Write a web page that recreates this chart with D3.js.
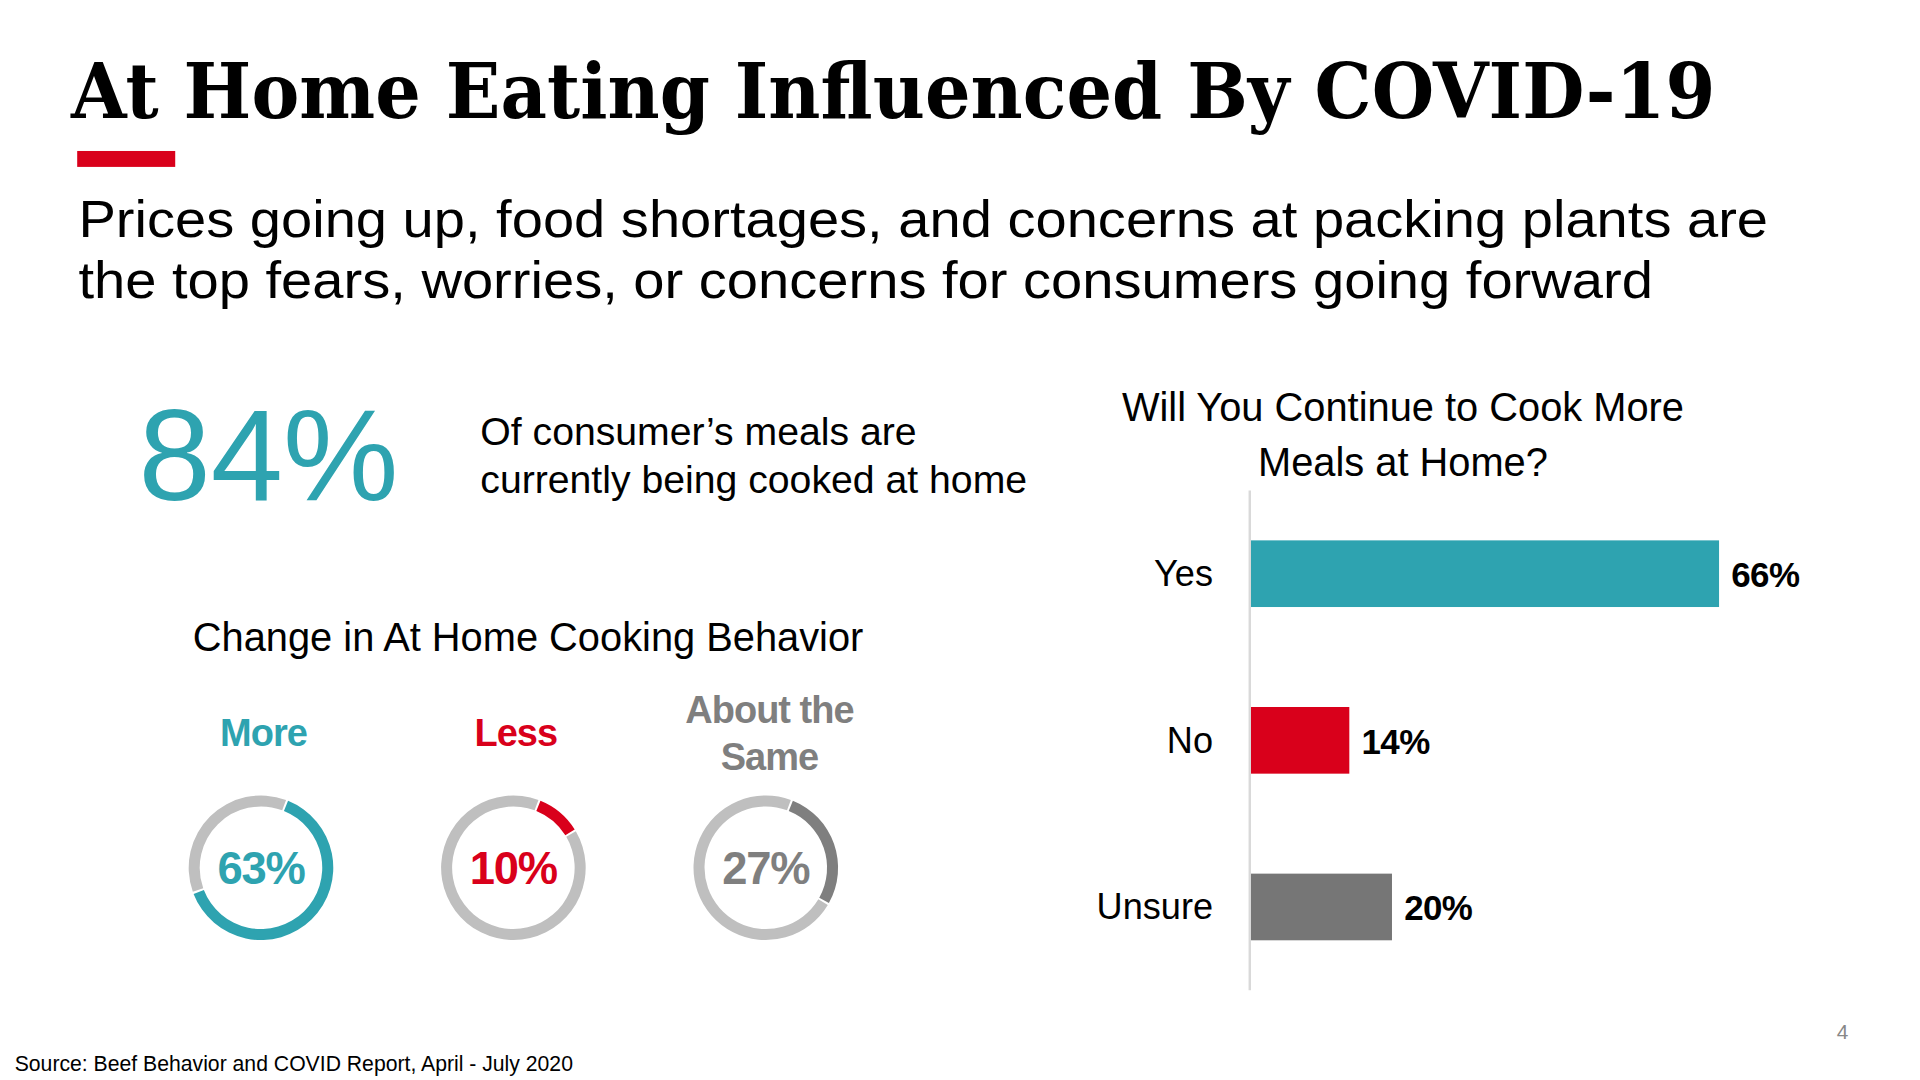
<!DOCTYPE html>
<html><head><meta charset="utf-8">
<script src="https://cdn.jsdelivr.net/npm/d3@7"></script>
<style>body{margin:0;background:#fff}svg{display:block}</style>
</head><body>
<svg id="c" width="1920" height="1080" viewBox="0 0 1567 881"></svg>
<script>
const donutLabels = ["More", "Less", "About the|Same"];
const donutValues = [63, 10, 27];
const donutColors = ["#2ea3b0", "#d9001b", "#7f7f7f"];
const barCategories = ["Yes", "No", "Unsure"];
const barValues = [66, 14, 20];
const barColors = ["#2ea3b0", "#d9001b", "#767676"];

const svg = d3.select("#c");
const sans = "Liberation Sans, Arial, sans-serif";

svg.append("text").attr("x",58).attr("y",96).attr("font-family","DejaVu Serif, serif").attr("font-weight","bold")
  .attr("font-size",62).attr("textLength",1342).attr("lengthAdjust","spacingAndGlyphs")
  .attr("fill","#000").text("At Home Eating Influenced By COVID-19");
svg.append("rect").attr("x",63).attr("y",123).attr("width",80).attr("height",13).attr("fill","#d9001b");
[["Prices going up, food shortages, and concerns at packing plants are",1379],
 ["the top fears, worries, or concerns for consumers going forward",1285]].forEach((t,i)=>
  svg.append("text").attr("x",64).attr("y",193+i*50).attr("font-family",sans).attr("font-size",43)
    .attr("textLength",t[1]).attr("lengthAdjust","spacingAndGlyphs").attr("fill","#000").text(t[0]));

svg.append("text").attr("x",113).attr("y",408).attr("font-family",sans).attr("font-size",106)
  .attr("fill","#2ea3b0").text("84%");
["Of consumer’s meals are","currently being cooked at home"].forEach((t,i)=>
  svg.append("text").attr("x",392).attr("y",363+i*39).attr("font-family",sans).attr("font-size",32)
    .attr("fill","#000").text(t));

svg.append("text").attr("x",431).attr("y",531).attr("text-anchor","middle").attr("font-family",sans)
  .attr("font-size",32.5).attr("fill","#000").text("Change in At Home Cooking Behavior");

const dx = d3.scalePoint().domain(donutLabels).range([213,625]);
const arc = d3.arc().innerRadius(50).outerRadius(59);
const off = 22*Math.PI/180, gap = 0.03;
donutLabels.forEach((lab,i)=>{
  const cx = dx(lab), cy = 708;
  const g = svg.append("g").attr("transform",`translate(${cx},${cy})`);
  const a = off + donutValues[i]/100*2*Math.PI;
  g.append("path").attr("d",arc({startAngle:a+gap,endAngle:off+2*Math.PI-gap})).attr("fill","#bfbfbf");
  g.append("path").attr("d",arc({startAngle:off,endAngle:a})).attr("fill",donutColors[i]);
  g.append("text").attr("y",13).attr("text-anchor","middle").attr("font-family",sans).attr("font-size",37)
    .attr("font-weight","bold").attr("letter-spacing",-1).attr("fill",donutColors[i]).text(donutValues[i]+"%");
  const lines = lab.split("|");
  lines.forEach((t,j)=>svg.append("text").attr("x",cx+(lines.length>1?3:2)).attr("y",lines.length>1?590+j*38:609)
    .attr("text-anchor","middle").attr("font-family",sans).attr("font-weight","bold").attr("font-size",31)
    .attr("letter-spacing",-0.8).attr("fill",donutColors[i]).text(t));
});

["Will You Continue to Cook More","Meals at Home?"].forEach((t,i)=>
  svg.append("text").attr("x",1145).attr("y",343+i*45).attr("text-anchor","middle").attr("font-family",sans)
    .attr("font-size",32.5).attr("fill","#000").text(t));
const x = d3.scaleLinear().domain([0,66]).range([1020,1403]);
const y = d3.scaleBand().domain(barCategories).range([400,808]).paddingInner(0.6).paddingOuter(0.3);
svg.append("line").attr("x1",1020).attr("x2",1020).attr("y1",400).attr("y2",808).attr("stroke","#d9d9d9").attr("stroke-width",2);
barCategories.forEach((c,i)=>{
  svg.append("rect").attr("x",x(0)+1).attr("y",y(c)).attr("width",x(barValues[i])-x(0)-1)
    .attr("height",y.bandwidth()).attr("fill",barColors[i]);
  svg.append("text").attr("x",990).attr("y",y(c)+y.bandwidth()/2+10).attr("text-anchor","end")
    .attr("font-family",sans).attr("font-size",29.5).attr("fill","#000").text(c);
  svg.append("text").attr("x",x(barValues[i])+10).attr("y",y(c)+y.bandwidth()/2+11)
    .attr("font-family",sans).attr("font-weight","bold").attr("font-size",28.5).attr("letter-spacing",-0.5)
    .attr("fill","#000").text(barValues[i]+"%");
});

svg.append("text").attr("x",1499).attr("y",848).attr("font-family",sans).attr("font-size",17).attr("fill","#888").text("4");
svg.append("text").attr("x",12).attr("y",874).attr("font-family",sans).attr("font-size",17.3).attr("fill","#000")
  .text("Source: Beef Behavior and COVID Report, April - July 2020");
</script>
</body></html>
